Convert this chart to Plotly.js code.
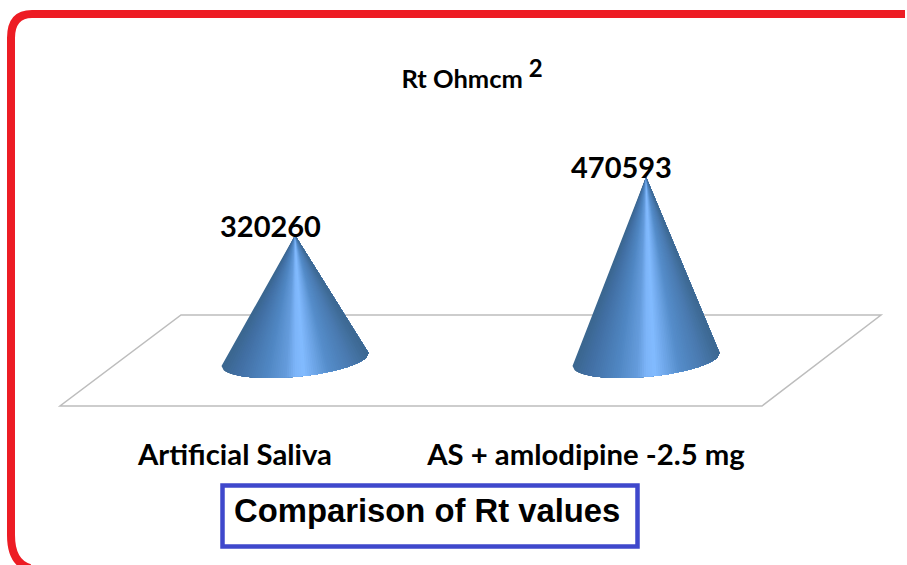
<!DOCTYPE html>
<html>
<head>
<meta charset="utf-8">
<script src="https://cdn.plot.ly/plotly-3.0.1.min.js"></script>
<style>html,body{margin:0;padding:0;background:#fff;overflow:hidden}#chart{width:907px;height:565px}</style>
</head>
<body>
<div id="chart"></div>
<script>
const categories = ["Artificial Saliva", "AS + amlodipine -2.5 mg"];
const rtValues = [320260, 470593];
const chartTitle = 'Rt Ohmcm<sup><span style="font-size:24px"> 2</span></sup>';
const boxTitle = "Comparison of Rt values";

const W = 907, H = 565;
const x0Px = 235, xStep = 351;        // tick position of category 0, category spacing
const baseYPx = 359.5, k = 0.000388;  // pixel of value 0, pixels per unit
const depth = 60;                     // cones stand back on the floor by this many px
const rMajor = 73.5, tilt = 6.5, rMinor = 17.3;

const xData = px => (px - x0Px) / xStep;
const yData = dpx => -dpx / k;        // downward pixel offset to value
const fx = px => px / W, fy = py => 1 - py / H;
const P = (x, y) => fx(x) + ' ' + fy(y);

const stops = [[0,'#3a668f'],[.1,'#426fa3'],[.3,'#4f86c2'],[.44,'#659cdc'],[.5,'#7cb4f8'],[.56,'#82bbff'],[.63,'#70a8ea'],[.73,'#558dca'],[.88,'#4a7ab0'],[1,'#3c6891']];
function hex(c){return [1,3,5].map(i=>parseInt(c.substr(i,2),16));}
function colorAt(s){
  for(let i=1;i<stops.length;i++){
    if(s<=stops[i][0]){
      const a=stops[i-1],b=stops[i],t=(s-a[0])/(b[0]-a[0]);
      const A=hex(a[1]),B=hex(b[1]);
      return 'rgb('+A.map((v,j)=>Math.round(v+(B[j]-v)*t)).join(',')+')';
    }
  }
  return stops[stops.length-1][1];
}

const traces = [];
const N = 70;
rtValues.forEach((v, i) => {
  const cx = i + depth / xStep;
  const pt = s => {
    const c = 1 - 2 * s;
    return [cx - (rMajor * c) / xStep, yData(tilt * c + rMinor * Math.sqrt(Math.max(0, 1 - c * c)))];
  };
  for (let n = 0; n < N; n++) {
    // each band spans from its own start to the far edge, so later bands paint over earlier ones with no seams
    const xs = [cx], ys = [v];
    for (let m = n; m <= N; m++) { const p = pt(m / N); xs.push(p[0]); ys.push(p[1]); }
    xs.push(cx); ys.push(v);
    traces.push({
      type: 'scatter', mode: 'none', x: xs, y: ys,
      fill: 'toself', fillcolor: colorAt((n + .5) / N),
      hoverinfo: 'skip', showlegend: false
    });
  }
});

const annotations = rtValues.map((v, i) => ({
  x: i + depth / xStep, y: v, xref: 'x', yref: 'y', text: String(v), showarrow: false,
  xshift: -24.5, yshift: 10, xanchor: 'center', yanchor: 'middle',
  font: {family: 'Lato, sans-serif', size: 29, color: '#000', weight: 700}
}));
annotations.push({
  xref: 'paper', yref: 'paper', x: fx(427), y: fy(510), text: '<b>' + boxTitle + '</b>', showarrow: false,
  xanchor: 'center', yanchor: 'middle',
  font: {family: 'Liberation Sans, Arial, sans-serif', size: 32.8, color: '#000'}
});

const layout = {
  width: W, height: H,
  margin: {l: 0, r: 0, t: 0, b: 0},
  paper_bgcolor: '#fff', plot_bgcolor: '#fff',
  showlegend: false,
  title: {text: '<b>' + chartTitle + '</b>', x: fx(472), xanchor: 'center', y: fy(79), yanchor: 'middle',
          font: {family: 'Lato, sans-serif', size: 25.5, color: '#000'}},
  xaxis: {
    type: 'linear', range: [xData(0), xData(W)], showgrid: false, zeroline: false, showline: false,
    tickmode: 'array', tickvals: categories.map((c, i) => i), ticktext: categories.map(c => '<b>' + c + '</b>'),
    ticks: '', tickangle: 0, anchor: 'free', position: fy(435),
    tickfont: {family: 'Lato, sans-serif', size: 29.3, color: '#000'}
  },
  yaxis: {
    type: 'linear', range: [yData(H - baseYPx), yData(-baseYPx)], visible: false, showgrid: false, zeroline: false
  },
  annotations,
  shapes: [
    {type: 'path', xref: 'paper', yref: 'paper', layer: 'below',
     path: 'M' + P(181,315) + ' L' + P(881,315) + ' L' + P(762,406) + ' L' + P(60,406) + ' Z',
     line: {color: '#bdbdbd', width: 1.5}, fillcolor: '#fff'},
    {type: 'path', xref: 'paper', yref: 'paper', layer: 'above',
     path: 'M' + P(30,568) + ' Q' + P(11,563) + ' ' + P(11,535) + ' L' + P(11,38) + ' Q' + P(11,14) + ' ' + P(32,14) + ' L' + P(905,14),
     line: {color: '#ed1c24', width: 8}},
    {type: 'rect', xref: 'paper', yref: 'paper', layer: 'above',
     x0: fx(222.5), x1: fx(637.5), y0: fy(485.5), y1: fy(546.5),
     line: {color: '#3f48cc', width: 4.5}, fillcolor: 'rgba(0,0,0,0)'}
  ]
};

Plotly.newPlot('chart', traces, layout, {displayModeBar: false, staticPlot: true});
</script>
</body>
</html>
